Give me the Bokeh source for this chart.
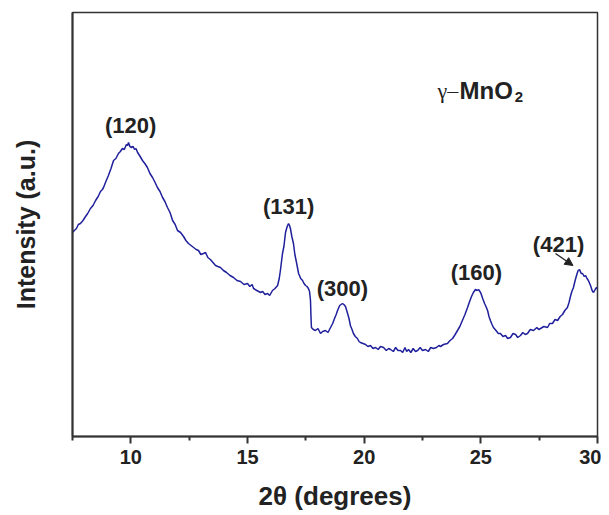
from bokeh.plotting import figure
from bokeh.models import Range1d, FixedTicker, Arrow, NormalHead, ColumnDataSource
from bokeh.core.properties import value
from bokeh.embed import file_html
from bokeh.resources import INLINE

# ---- data ----
two_theta = [7.50, 7.58, 7.67, 7.75, 7.84, 7.95, 8.06, 8.15, 8.27, 8.38, 8.49, 8.60, 8.70, 8.78, 8.83, 8.93,
             9.04, 9.15, 9.26, 9.36, 9.47, 9.55, 9.64, 9.72, 9.81, 9.86, 9.90, 9.96, 10.03, 10.10, 10.16, 10.22,
             10.29, 10.40, 10.50, 10.60, 10.71, 10.82, 10.93, 11.04, 11.14, 11.25, 11.36, 11.46, 11.57, 11.68,
             11.79, 11.90, 12.00, 12.13, 12.26, 12.36, 12.47, 12.58, 12.69, 12.80, 12.90, 13.00, 13.11, 13.20,
             13.30, 13.41, 13.52, 13.63, 13.73, 13.84, 13.97, 14.10, 14.25, 14.40, 14.55, 14.70, 14.85, 15.00,
             15.10, 15.20, 15.26, 15.40, 15.56, 15.65, 15.75, 15.86, 15.95, 16.07, 16.18, 16.29, 16.36, 16.41,
             16.50, 16.56, 16.63, 16.70, 16.76, 16.80, 16.84, 16.90, 16.97, 17.03, 17.10, 17.19, 17.28, 17.36,
             17.42, 17.49, 17.55, 17.61, 17.66, 17.70, 17.72, 17.74, 17.82, 17.91, 18.02, 18.13, 18.22, 18.34,
             18.45, 18.56, 18.65, 18.73, 18.80, 18.86, 18.95, 19.07, 19.13, 19.20, 19.29, 19.35, 19.41, 19.48,
             19.54, 19.62, 19.71, 19.78, 19.84, 19.95, 20.06, 20.16, 20.27, 20.38, 20.49, 20.60, 20.70, 20.83,
             20.95, 21.05, 21.13, 21.25, 21.35, 21.45, 21.56, 21.65, 21.75, 21.82, 21.90, 22.00, 22.10, 22.20,
             22.29, 22.40, 22.50, 22.63, 22.75, 22.85, 22.97, 23.10, 23.20, 23.27, 23.40, 23.57, 23.68, 23.79,
             23.90, 24.00, 24.10, 24.21, 24.32, 24.43, 24.52, 24.60, 24.68, 24.77, 24.84, 24.90, 24.99, 25.08,
             25.16, 25.22, 25.29, 25.35, 25.41, 25.48, 25.54, 25.65, 25.75, 25.84, 25.95, 26.06, 26.15, 26.27,
             26.38, 26.49, 26.58, 26.70, 26.80, 26.90, 27.00, 27.12, 27.26, 27.40, 27.48, 27.56, 27.70, 27.86,
             27.95, 28.07, 28.18, 28.29, 28.40, 28.50, 28.60, 28.71, 28.78, 28.84, 28.90, 28.97, 29.03, 29.10,
             29.17, 29.23, 29.30, 29.36, 29.43, 29.49, 29.55, 29.61, 29.70, 29.77, 29.83, 29.90, 29.96, 30.00]
intensity = [204, 206, 208, 212, 213, 216, 220, 223, 228, 231, 236, 240, 245, 247, 249, 255,
             261, 268, 276, 278, 283, 285, 288, 287, 292, 291, 294, 290, 289, 290, 287, 288,
             284, 280, 276, 273, 269, 263, 259, 254, 249, 245, 239, 235, 229, 224,
             216, 212, 206, 204, 200, 196, 193, 191, 189, 187, 186, 182, 183, 184,
             179, 177, 174, 171, 170, 169, 166, 164, 161, 159, 156, 155, 152, 153,
             150, 152, 148, 146, 144, 145, 142, 143, 141, 146, 148, 151, 158, 166,
             183, 190, 204, 210, 213, 211, 208, 200, 193, 182, 174, 163, 158, 156,
             153, 151, 150, 148, 145, 136, 120, 109, 107, 106, 108, 103, 105, 106,
             104, 109, 113, 118, 122, 126, 131, 133, 132, 130, 123, 118, 111, 107,
             103, 100, 98, 95, 94, 93, 92, 90, 91, 88, 89, 87, 90, 89,
             86, 88, 87, 85, 89, 86, 86, 84, 89, 85, 87, 84, 88, 85,
             86, 89, 86, 87, 85, 89, 88, 89, 91, 90, 92, 93, 96, 98,
             102, 106, 110, 116, 122, 129, 135, 140, 144, 147, 146, 147, 144, 138,
             133, 130, 126, 120, 116, 112, 109, 106, 103, 103, 100, 101, 98, 99,
             103, 102, 99, 101, 104, 102, 103, 107, 106, 109, 107, 108, 110, 109,
             113, 113, 117, 116, 120, 122, 126, 129, 134, 140, 145, 149, 155, 161,
             166, 167, 163, 163, 160, 161, 158, 156, 151, 146, 144, 147, 149, 148]

hkl_labels = ["(120)", "(131)", "(300)", "(160)", "(421)"]
label_theta = [9.99, 16.76, 19.07, 24.81, 28.33]
label_height = [311, 230, 148, 164, 192]

x_ticks = [10, 15, 20, 25, 30]
x_minor = [7.5, 12.5, 17.5, 22.5, 27.5]

FONT = "Liberation Sans"
DARK = "#222222"

p = figure(width=601, height=515, output_backend="svg", toolbar_location=None,
           x_range=Range1d(7.5, 30), y_range=Range1d(0, 424),
           min_border_left=72, min_border_right=4, min_border_top=12, min_border_bottom=79)

p.grid.visible = False
p.background_fill_color = "white"
p.border_fill_color = "white"
p.outline_line_color = "#333333"
p.outline_line_width = 1.5

# x axis
xa = p.xaxis[0]
xa.ticker = FixedTicker(ticks=x_ticks, minor_ticks=x_minor)
xa.axis_line_width = 2
xa.axis_line_color = "#333333"
xa.major_tick_line_color = "#333333"
xa.major_tick_line_width = 2
xa.major_tick_in = 0
xa.major_tick_out = 7
xa.minor_tick_line_color = "#333333"
xa.minor_tick_line_width = 2
xa.minor_tick_in = 0
xa.minor_tick_out = 4
xa.major_label_text_font = FONT
xa.major_label_text_font_style = "bold"
xa.major_label_text_font_size = "20px"
xa.major_label_text_color = DARK
xa.major_label_standoff = 6
xa.axis_label = "2θ (degrees)"
xa.axis_label_text_font = FONT
xa.axis_label_text_font_style = "bold"
xa.axis_label_text_font_size = "26px"
xa.axis_label_text_color = DARK
xa.axis_label_standoff = 14

# y axis
ya = p.yaxis[0]
ya.ticker = FixedTicker(ticks=[])
ya.major_label_text_font_size = "0px"
ya.major_tick_out = 0
ya.major_tick_in = 0
ya.minor_tick_out = 0
ya.minor_tick_in = 0
ya.axis_line_width = 2
ya.axis_line_color = "#333333"
ya.axis_label = "Intensity (a.u.)"
ya.axis_label_text_font = FONT
ya.axis_label_text_font_style = "bold"
ya.axis_label_text_font_size = "25px"
ya.axis_label_text_color = DARK
ya.axis_label_standoff = 33

# XRD curve
p.line(two_theta, intensity, line_color="#20209c", line_width=1.5)

# peak labels
src = ColumnDataSource(dict(x=label_theta, y=label_height, t=hkl_labels))
p.text(x="x", y="y", text="t", source=src, text_font=value(FONT), text_font_style="bold",
       text_font_size="22px", text_color=DARK, text_align="center", text_baseline="middle")

# arrow to (421)
p.add_layout(Arrow(end=NormalHead(size=8, fill_color=DARK, line_color=DARK),
                   x_start=28.2, y_start=183, x_end=28.95, y_end=171,
                   line_color=DARK, line_width=1.3))

# title  gamma-MnO2
p.text(x=[23.14], y=[346], text=["γ–"], text_font=value("Liberation Serif"),
       text_font_size="22px", text_color=DARK, text_align="left", text_baseline="alphabetic")
p.text(x=[24.09], y=[346], text=["MnO"], text_font=value(FONT), text_font_style="bold",
       text_font_size="24px", text_color=DARK, text_align="left", text_baseline="alphabetic")
p.text(x=[26.45], y=[340], text=["2"], text_font=value(FONT), text_font_style="bold",
       text_font_size="15px", text_color=DARK, text_align="left", text_baseline="alphabetic")

open("out.html", "w").write(file_html(p, INLINE))
